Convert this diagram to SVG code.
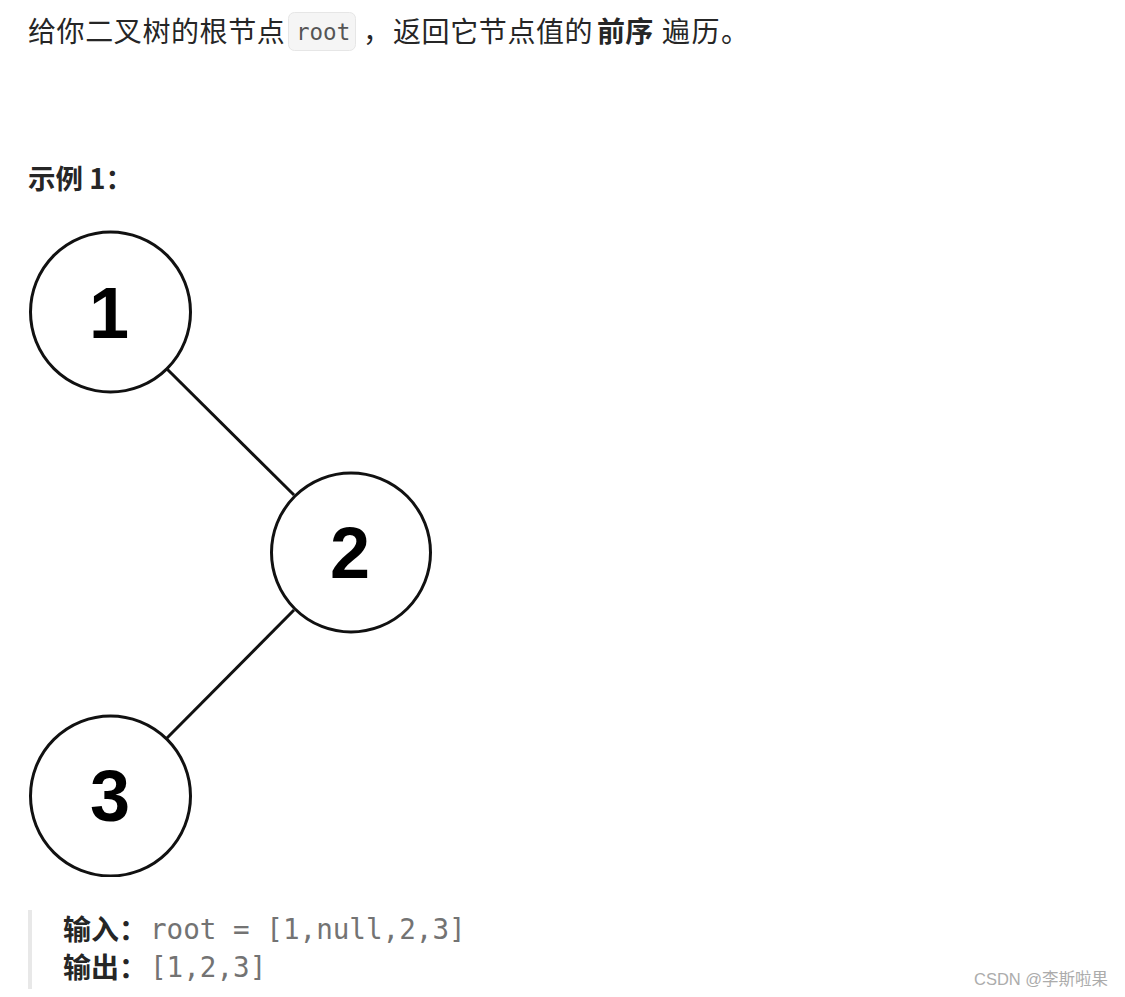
<svg xmlns="http://www.w3.org/2000/svg" width="1125" height="997" viewBox="0 0 1125 997">
<style>
.cjk{font-family:"Noto Sans CJK SC","Noto Sans",sans-serif;fill:#262626}
.b{font-weight:bold}
.mono{font-family:"DejaVu Sans Mono","Liberation Mono",monospace}
.node circle{fill:#fff;stroke:#111;stroke-width:3}
.node text{font-family:"Liberation Sans",Arial,sans-serif;font-weight:bold;font-size:72px;fill:#000;text-anchor:middle}
.edge{stroke:#111;stroke-width:3;fill:none}
</style>
<defs>
<clipPath id="imgclip"><rect x="20" y="220" width="412" height="657"/></clipPath>
</defs>
<rect width="1125" height="997" fill="#fff"/>
<g id="header">
<text class="cjk" x="28" y="42" font-size="28" letter-spacing="0.6">给你二叉树的根节点</text>
<rect x="288.5" y="12.5" width="67" height="38" rx="6" fill="#f5f5f5" stroke="#e6e6e6"/>
<text class="mono" x="296" y="40" font-size="22.5" fill="#555">root</text>
<text class="cjk" x="363" y="42" font-size="28">，</text>
<text class="cjk" x="393" y="42" font-size="28" letter-spacing="0.6">返回它节点值的</text>
<text class="cjk b" x="597" y="42" font-size="28" letter-spacing="0.3">前序</text>
<text class="cjk" x="662" y="42" font-size="28" letter-spacing="1.5">遍历。</text>
</g>
<text id="example" class="cjk b" x="28" y="189" font-size="27.5">示例 1：</text>
<g clip-path="url(#imgclip)">
<g id="connectors">
<line class="edge" x1="167" y1="369" x2="294" y2="495"/>
<line class="edge" x1="294" y1="610" x2="167" y2="738"/>
</g>
<g id="node1" class="node"><circle cx="110.5" cy="312" r="80"/><text x="109" y="338">1</text></g>
<g id="node2" class="node"><circle cx="351" cy="552.5" r="79.5"/><text x="350" y="578">2</text></g>
<g id="node3" class="node"><circle cx="110.5" cy="796" r="80"/><text x="110" y="821">3</text></g>
</g>
<g id="example-io">
<rect x="28" y="910" width="4" height="79" fill="#e8e8e8"/>
<text class="cjk b" x="63" y="940" font-size="28">输入：</text>
<text class="mono" x="150" y="939" font-size="27.6" fill="#737373">root = [1,null,2,3]</text>
<text class="cjk b" x="63" y="978" font-size="28">输出：</text>
<text class="mono" x="150" y="977" font-size="27.6" fill="#737373">[1,2,3]</text>
</g>
<text id="watermark" x="974" y="985" font-size="16.5" fill="#acacac" font-family="Liberation Sans,Arial,'Noto Sans CJK SC',sans-serif">CSDN @李斯啦果</text>
</svg>
